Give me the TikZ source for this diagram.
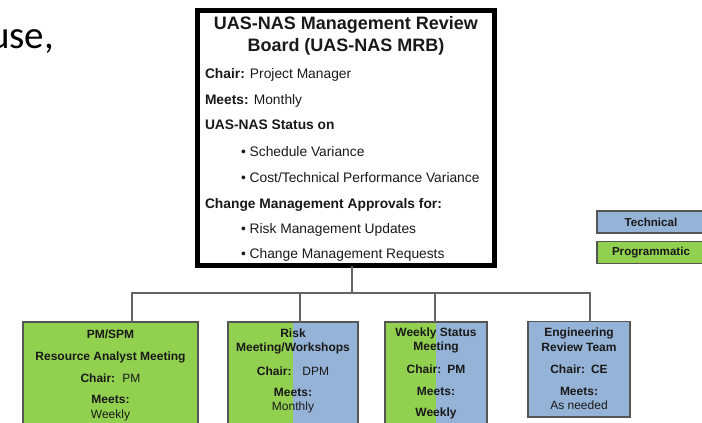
\documentclass[tikz,border=0pt]{standalone}
\usepackage{fontspec}
\setmainfont{Liberation Sans}
\newfontfamily\calibfont{Carlito}
\usetikzlibrary{calc}
\definecolor{prog}{RGB}{146,208,80}
\definecolor{tech}{RGB}{149,179,215}
\definecolor{txt}{RGB}{25,25,25}
\definecolor{edgegray}{RGB}{85,85,85}
\definecolor{wire}{RGB}{100,100,100}
\begin{document}
\begin{tikzpicture}[x=1pt,y=-1pt,
  every node/.style={inner sep=0pt, outer sep=0pt, text=txt},
  mtxt/.style={font=\fontsize{13.8}{16}\selectfont, anchor=base west},
  ttl/.style={font=\fontsize{18}{20}\selectfont\bfseries, anchor=base},
  btxt/.style={font=\fontsize{12}{14}\selectfont\bfseries, anchor=base},
  rtxt/.style={font=\fontsize{12}{14}\selectfont, anchor=base},
  meetbox/.style={draw=edgegray, line width=1.2pt, anchor=north west},
  progbox/.style={meetbox, fill=prog},
  techbox/.style={meetbox, fill=tech},
  mixbox/.style={meetbox, fill=prog, path picture={\fill[tech] ($(path picture bounding box.south west)!0.5!(path picture bounding box.south east)$) rectangle (path picture bounding box.north east);}},
  legbox/.style={draw=edgegray, line width=1.2pt, anchor=north west, minimum width=108pt, minimum height=22pt, font=\fontsize{11.6}{13}\selectfont\bfseries},
  wirestyle/.style={draw=wire, line width=1.4pt},
]
\useasboundingbox (0,0) rectangle (702,423);
\clip (0,0) rectangle (702,423);

% partial word at top left
\node[font=\calibfont\fontsize{39}{40}\selectfont, anchor=base east, text=black] (use) at (54,48) {use,};

% main board
\node[draw=black, line width=5pt, minimum width=297pt, minimum height=255pt, anchor=north west] (mrb) at (197.5,10.5) {};
\node[ttl] (t1) at (346,30) {UAS-NAS Management Review};
\node[ttl] (t2) at (346,51) {Board (UAS-NAS MRB)};
\node[mtxt] (l1) at (205,78) {\textbf{Chair:} Project Manager};
\node[mtxt] (l2) at (205,104) {\textbf{Meets:} Monthly};
\node[mtxt] (l3) at (205,129) {\textbf{UAS-NAS Status on}};
\node[mtxt] (l4) at (241,156) {• Schedule Variance};
\node[mtxt] (l5) at (241,182) {• Cost/Technical Performance Variance};
\node[mtxt] (l6) at (205,208) {\textbf{Change Management Approvals for:}};
\node[mtxt] (l7) at (241,233) {• Risk Management Updates};
\node[mtxt] (l8) at (241,258) {• Change Management Requests};

% legend
\node[legbox, fill=tech] (lt) at (597,211) {Technical};
\node[legbox, fill=prog] (lp) at (597,241.5) {Programmatic};

% meeting boxes
\node[progbox, minimum width=175pt, minimum height=110pt] (b1) at (23,322) {};
\node[mixbox, minimum width=130pt, minimum height=110pt] (b2) at (228,322) {};
\node[mixbox, minimum width=102pt, minimum height=110pt] (b3) at (385,322) {};
\node[techbox, minimum width=102pt, minimum height=95.5pt] (b4) at (528,321.5) {};

% connectors
\coordinate (hub) at (352,293);
\coordinate (d1) at (132,293);
\coordinate (d2) at (300,293);
\coordinate (d3) at (435,293);
\coordinate (d4) at (590,293);
\draw[wirestyle] (mrb.south -| hub) -- (hub);
\draw[wirestyle] (d1 |- b1.north) -- (d1) -- (d4) -- (d4 |- b4.north);
\draw[wirestyle] (d2) -- (d2 |- b2.north);
\draw[wirestyle] (d3) -- (d3 |- b3.north);

% box 1 text
\node[btxt] (b1a) at (110.5,338) {PM/SPM};
\node[btxt] (b1b) at (110.5,360) {Resource Analyst Meeting};
\node[btxt] (b1c) at (110.5,382) {Chair:\hspace{0.6em}\mdseries PM};
\node[btxt] (b1d) at (110.5,403) {Meets:};
\node[rtxt] (b1e) at (110.5,418) {Weekly};

% box 2 text
\node[btxt] (b2a) at (293,337) {Risk};
\node[btxt] (b2b) at (293,351) {Meeting/Workshops};
\node[btxt] (b2c) at (293,375) {Chair:\hspace{0.9em}\mdseries DPM};
\node[btxt] (b2d) at (293,396) {Meets:};
\node[rtxt] (b2e) at (293,410) {Monthly};

% box 3 text
\node[btxt] (b3a) at (436,336) {Weekly Status};
\node[btxt] (b3b) at (436,350) {Meeting};
\node[btxt] (b3c) at (436,373) {Chair:\hspace{0.5em}PM};
\node[btxt] (b3d) at (436,395) {Meets:};
\node[btxt] (b3e) at (436,416) {Weekly};

% box 4 text
\node[btxt] (b4a) at (579,336) {Engineering};
\node[btxt] (b4b) at (579,351) {Review Team};
\node[btxt] (b4c) at (579,373) {Chair:\hspace{0.5em}CE};
\node[btxt] (b4d) at (579,395) {Meets:};
\node[rtxt] (b4e) at (579,409) {As needed};
\end{tikzpicture}
\end{document}
